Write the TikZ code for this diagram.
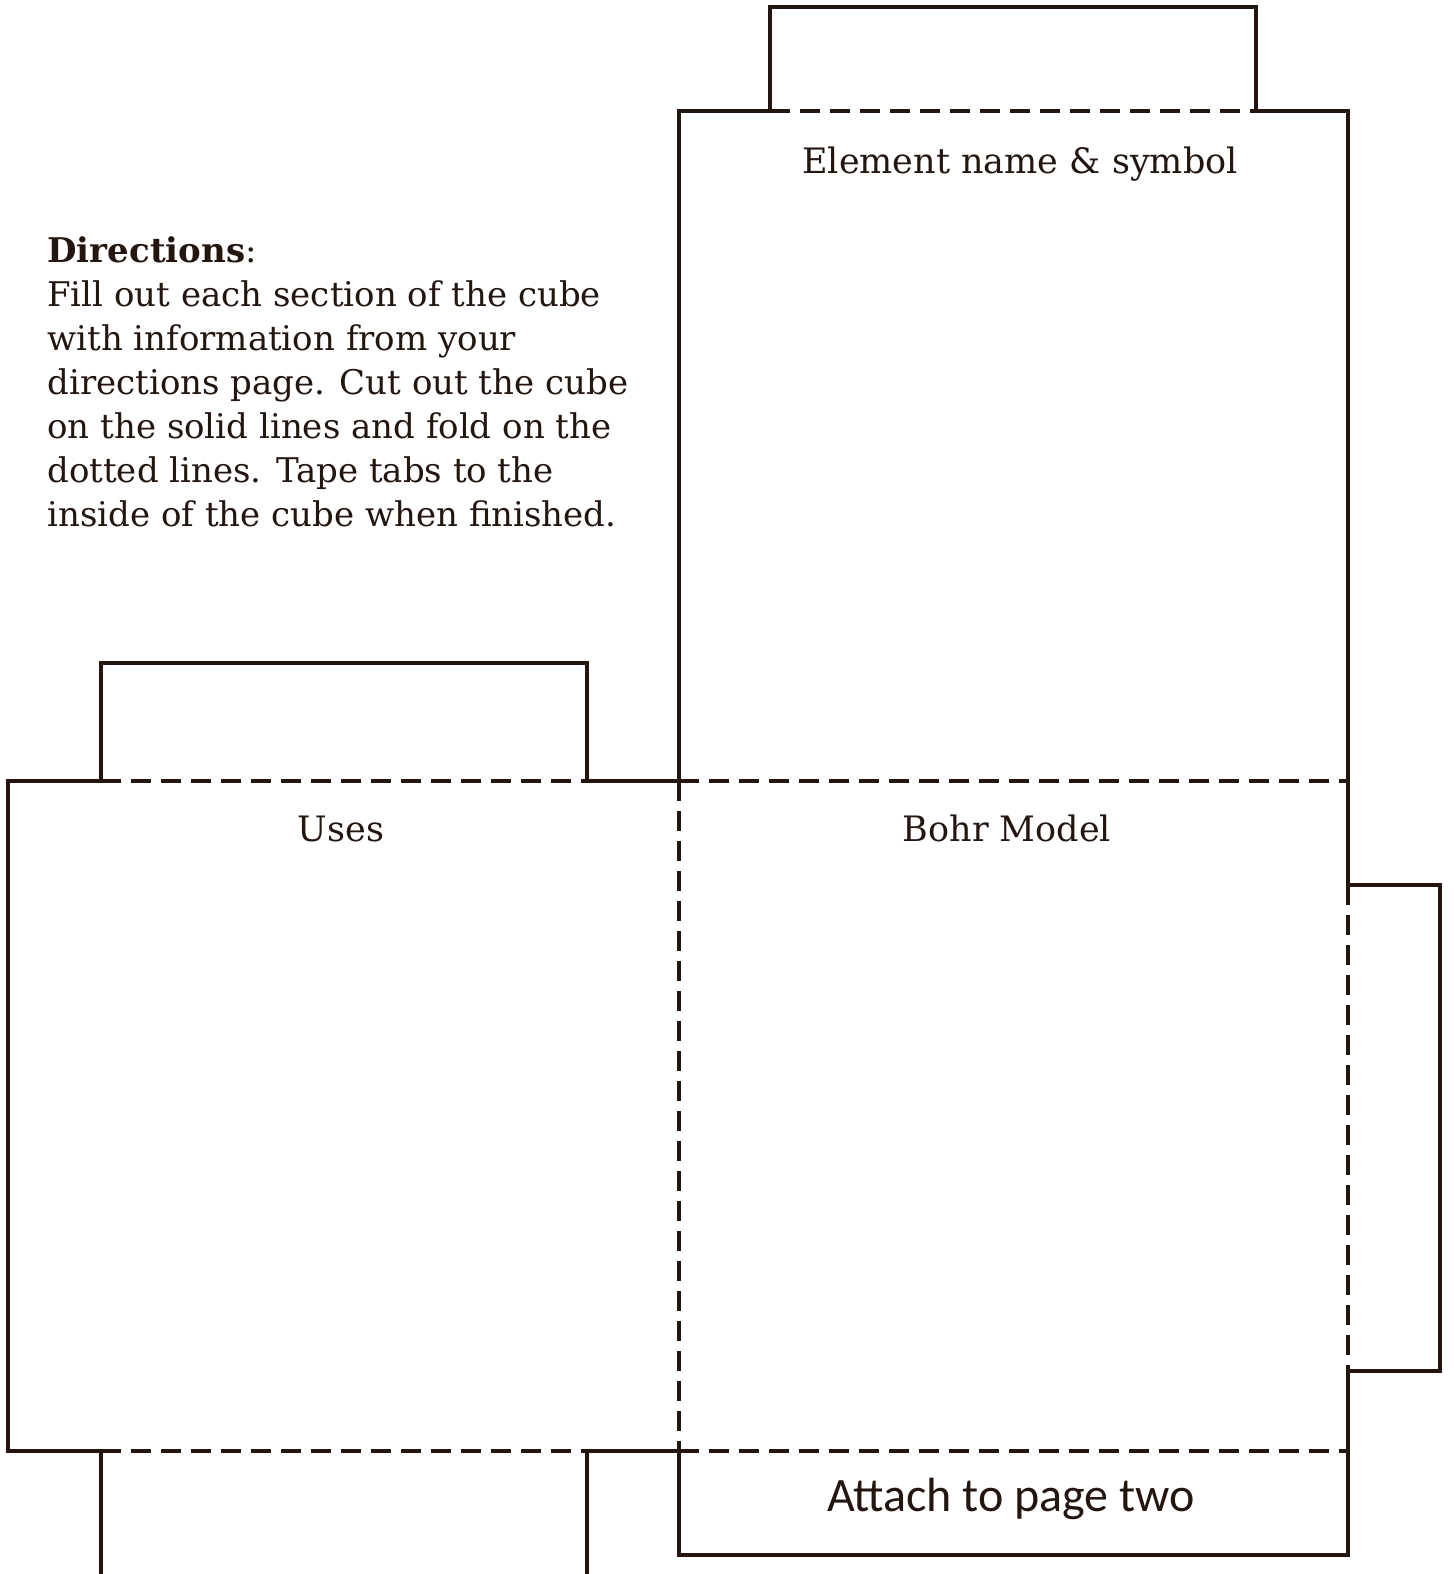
\documentclass[tikz,border=0pt]{standalone}
\usepackage{fontspec}
\setmainfont{DejaVu Serif}
\newfontfamily\attachfont{Carlito}
\definecolor{ink}{HTML}{24160F}
\tikzset{
  cut/.style={draw=ink, line width=1.8pt, line cap=rect},
  fold/.style={draw=ink, line width=1.8pt, dash pattern=on 10pt off 5pt},
  facelabel/.style={text=ink, font=\fontsize{17.5}{21}\selectfont, inner sep=0pt, anchor=base},
}
\begin{document}
\begin{tikzpicture}[x=0.5pt,y=-0.5pt]
\useasboundingbox[fill=white] (0,0) rectangle (1453,1574);
% key corners
\coordinate (TTa) at (770,7);   \coordinate (TTb) at (1256,7);
\coordinate (TFa) at (679,111); \coordinate (TFb) at (1348,111);
\coordinate (TTc) at (770,111); \coordinate (TTd) at (1256,111);
\coordinate (M1) at (679,781);  \coordinate (M2) at (1348,781);
\coordinate (UL) at (8,781);    \coordinate (LL) at (8,1451);
\coordinate (B1) at (679,1451); \coordinate (B2) at (1348,1451);
\coordinate (AB1) at (679,1555);\coordinate (AB2) at (1348,1555);
\coordinate (RT1) at (1348,885);\coordinate (RT2) at (1440,885);
\coordinate (RT3) at (1440,1371);\coordinate (RT4) at (1348,1371);
\coordinate (LT1) at (101,781); \coordinate (LT2) at (101,663);
\coordinate (LT3) at (587,663); \coordinate (LT4) at (587,781);
\coordinate (LB1) at (101,1451);\coordinate (LB2) at (101,1574);
\coordinate (LB3) at (587,1574);\coordinate (LB4) at (587,1451);

% solid cut lines
\draw[cut] (TTc) -- (TTa) -- (TTb) -- (TTd);
\draw[cut] (TTc) -- (TFa) -- (M1);
\draw[cut] (TTd) -- (TFb) -- (RT1) -- (RT2) -- (RT3) -- (RT4) -- (AB2) -- (AB1) -- (B1);
\draw[cut] (LT1) -- (UL) -- (LL) -- (LB1);
\draw[cut] (LT1) -- (LT2) -- (LT3) -- (LT4) -- (M1);
\draw[cut] (LB4) -- (B1);
\draw[cut] (LB2) -- (LB1);
\draw[cut] (LB3) -- (LB4);

% dashed fold lines
\draw[fold] (TTc) -- (TTd);
\draw[fold] (LT1) -- (LT4);
\draw[fold] (M1) -- (M2);
\draw[fold] (M1) -- (B1);
\draw[fold] (RT1) -- (RT4);
\draw[fold] (B1) -- (B2);
\draw[fold] (LB1) -- (LB4);

% face labels
\node[facelabel] (element) at (1020,173) {Element name \& symbol};
\node[facelabel] (uses) at (341,841) {Uses};
\node[facelabel] (bohr) at (1007,841) {Bohr Model};
\node[text=ink, font=\attachfont\fontsize{24}{28}\selectfont, inner sep=0pt, anchor=base] (attach) at (1011,1511) {Attach to page two};

% directions
\node[text=ink, font=\fontsize{17}{22}\selectfont, inner sep=0pt, anchor=north west, align=left] (directions) at (47,236)
{\textbf{Directions}:\\
Fill out each section of the cube\\
with information from your\\
directions page. Cut out the cube\\
on the solid lines and fold on the\\
dotted lines. Tape tabs to the\\
inside of the cube when finished.};
\end{tikzpicture}
\end{document}
